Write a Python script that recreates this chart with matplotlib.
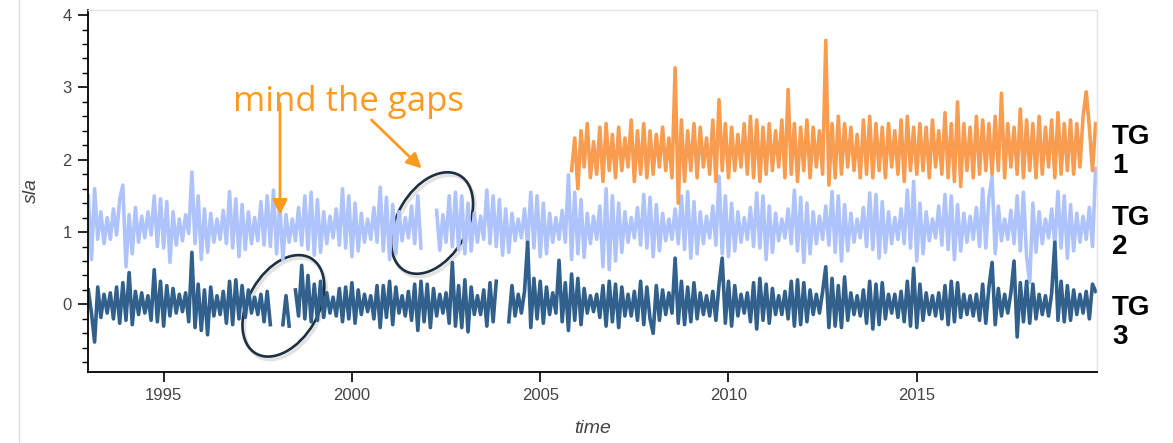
import numpy as np
import matplotlib.pyplot as plt
from matplotlib.patches import Ellipse
from matplotlib.transforms import ScaledTranslation
from matplotlib.lines import Line2D

nan = np.nan

# monthly sla per tide gauge, in cm, one row per year (1993 .. 2019)
tg3 = [
    20, -12, -52, 24, -18, 14, -12, 16, -20, 24, -26, 30,
    -22, 44, -28, 18, -14, 16, -12, 12, -22, 48, -24, 32,
    -30, 26, -16, 22, -12, 14, -10, 16, -24, 72, -32, 28,
    -36, 20, -42, 24, -16, 12, -14, 18, -26, 32, -28, 34,
    -20, 26, -18, 20, -12, 10, -14, 14, -24, 18, -28, nan,
    nan, nan, -28, 12, -30, nan, 20, -16, 54, -20, 40, -24,
    28, -22, 32, -18, 16, -12, 10, -16, 22, -24, 24, -20,
    30, -26, 20, -14, 14, -10, 12, -20, 26, -32, 26, -18,
    32, -28, 24, -12, 12, -16, 18, -22, 28, -36, 32, -24,
    28, -32, 22, -16, 14, -12, 16, -26, 58, -30, 26, -32,
    34, -38, 24, -14, 12, -14, 20, -30, 30, -24, 32, nan,
    nan, nan, -24, 26, -16, 14, -12, 18, 86, -32, 36, -20,
    32, -26, 24, -14, 16, -12, 61, -24, 30, -36, 42, -22,
    36, -28, 22, -12, 12, -10, 14, -18, 26, -30, 32, -24,
    28, -32, 24, -16, 14, -16, 18, -22, 32, -28, 24, -20,
    -40, 26, -22, 20, -14, 16, -12, 64, -26, 32, -28, 24,
    -24, 30, -20, 16, -14, 12, -16, 18, -22, 28, 64, -26,
    32, -30, 26, -16, 14, -12, 16, -24, 30, -34, 36, -22,
    28, -26, 22, -14, 12, -14, 18, -20, 32, -30, 34, -28,
    30, -24, 20, -14, 14, -12, 18, 52, -32, 36, -30, 26,
    -32, 38, -22, 16, -14, 12, -16, 20, -26, 32, -34, 28,
    -28, 30, -20, 14, -12, 14, -18, 18, -24, 32, -30, 50,
    -32, 28, -22, 16, -14, 12, -16, 16, -20, 26, -28, 32,
    -24, 30, -18, 14, -14, 12, -16, 14, -22, 28, -26, 24,
    58, -28, 22, -16, 14, -12, 16, 60, -45, 30, -24, 32,
    -26, 28, -20, 14, -14, 12, -16, 16, 86, -22, 32, -24,
    26, -22, 20, -14, 14, -12, 18, -20, 28, 18,
]

tg2 = [
    150, 62, 160, 90, 128, 84, 120, 90, 132, 96, 145, 165,
    52, 124, 70, 134, 86, 122, 92, 128, 96, 150, 80, 146,
    78, 142, 58, 128, 82, 118, 88, 124, 98, 183, 84, 150,
    62, 132, 72, 126, 86, 118, 90, 130, 84, 156, 78, 146,
    66, 138, 76, 128, 84, 120, 88, 142, 82, 150, 80, 158,
    70, 140, 62, 124, 86, 118, 88, 134, 82, 150, 76, 155,
    68, 145, 72, 128, 84, 122, 92, 132, 82, 160, 78, 150,
    66, 140, 74, 126, 86, 118, 90, 134, 86, 162, 74, 148,
    62, 138, 70, 128, 88, 120, 92, 136, 84, 150, 78, nan,
    nan, nan, nan, 130, 75, 124, 86, 150, 80, 155, 76, 150,
    70, 140, 74, 126, 86, 122, 90, 158, 84, 150, 80, 145,
    68, 132, 72, 126, 88, 118, 92, 132, 82, 155, 78, 150,
    66, 140, 70, 126, 86, 120, 90, 130, 86, 179, 62, 155,
    70, 145, 65, 126, 84, 122, 90, 136, 52, 160, 48, 150,
    60, 140, 72, 128, 86, 120, 92, 134, 82, 152, 78, 148,
    66, 138, 74, 126, 88, 118, 90, 132, 84, 150, 76, 156,
    64, 142, 70, 128, 84, 122, 92, 136, 82, 177, 70, 150,
    66, 140, 74, 128, 86, 120, 90, 134, 80, 154, 78, 150,
    62, 136, 72, 126, 88, 118, 92, 132, 84, 158, 74, 148,
    58, 140, 70, 128, 84, 122, 90, 136, 82, 156, 72, 150,
    60, 138, 74, 126, 86, 118, 92, 134, 80, 154, 76, 152,
    64, 142, 72, 128, 84, 120, 90, 132, 84, 158, 78, 170,
    60, 140, 70, 128, 88, 118, 92, 136, 82, 152, 76, 150,
    62, 138, 74, 126, 86, 122, 90, 134, 80, 160, 78, 148,
    177, 70, 136, 88, 118, 90, 130, 84, 150, 74, 155, 66,
    30, 140, 72, 128, 84, 118, 92, 132, 82, 156, 78, 150,
    64, 138, 74, 126, 86, 122, 90, 134, 80, 188,
]

# TG1 starts in Nov 2005
tg1 = [
    185, 230,
    160, 240, 190, 250, 175, 225, 180, 245, 170, 250, 185, 235,
    175, 245, 185, 230, 190, 255, 170, 240, 180, 250, 175, 240,
    180, 235, 190, 245, 185, 230, 175, 327, 140, 255, 170, 240,
    185, 250, 175, 245, 190, 230, 180, 255, 170, 283, 185, 250,
    175, 245, 185, 235, 190, 250, 180, 260, 175, 255, 170, 245,
    180, 250, 185, 240, 190, 255, 175, 297, 180, 250, 170, 245,
    185, 255, 175, 245, 190, 240, 180, 365, 165, 250, 175, 260,
    180, 250, 190, 245, 185, 235, 175, 255, 180, 260, 175, 250,
    185, 245, 175, 250, 190, 240, 180, 255, 170, 260, 185, 245,
    180, 250, 185, 245, 175, 255, 190, 240, 180, 265, 175, 250,
    170, 280, 163, 250, 185, 245, 175, 260, 180, 255, 185, 250,
    180, 260, 185, 292, 175, 250, 190, 245, 180, 270, 175, 255,
    185, 250, 175, 260, 180, 245, 190, 255, 175, 265, 180, 250,
    185, 255, 180, 250, 190, 260, 294, 245, 185, 250,
]

first_year = 1993
tg1_start = 2005 + 10 / 12
labels = ['TG\n1', 'TG\n2', 'TG\n3']
years = [1995, 2000, 2005, 2010, 2015]

t = first_year + np.arange(len(tg3)) / 12
t1 = tg1_start + np.arange(len(tg1)) / 12

plt.rcParams['font.family'] = ['Liberation Sans', 'DejaVu Sans']

fig = plt.figure(figsize=(11.73, 4.43), dpi=100)
ax = fig.add_axes([0.0753, 0.161, 0.8597, 0.8164])

ax.plot(t, np.array(tg2) / 100, color='#aec3fb', lw=2.6)
ax.plot(t1, np.array(tg1) / 100, color='#f99c50', lw=2.6)
ax.plot(t, np.array(tg3) / 100, color='#30608b', lw=2.6)

ax.set_xlim(1993.0, 2019.78)
ax.set_ylim(-0.93, 4.07)
ax.set_xticks(years)
ax.set_xticklabels([str(y) for y in years])
ax.set_yticks([0, 1, 2, 3, 4])
ax.set_yticks(np.arange(-0.8, 4.0, 0.2), minor=True)
ax.tick_params(axis='both', which='major', direction='out', length=7, width=1.2,
               labelsize=12, labelcolor='#444444', pad=5)
ax.tick_params(axis='y', which='minor', direction='out', length=4, width=1.0)

for s in ['left', 'bottom']:
    ax.spines[s].set_linewidth(1.3)
for s in ['top', 'right']:
    ax.spines[s].set_color('#e3e3e3')
    ax.spines[s].set_linewidth(1.0)

ax.set_xlabel('time', fontsize=14, style='italic', color='#444444', labelpad=12)
ax.set_ylabel('sla', fontsize=14, style='italic', color='#444444', labelpad=16)

# labels to the right of the plot
for lab, yy in zip(labels, [0.657, 0.476, 0.273]):
    fig.text(0.948, yy, lab, fontsize=20, fontweight='bold', color='black',
             va='center', ha='left', linespacing=1.15)

# annotation
orange = '#ff9a1f'
ax.text(1996.83, 2.68, 'mind the gaps', color=orange, fontsize=25,
        family='Open Sans', va='baseline', ha='left')
ax.annotate('', xy=(1998.09, 1.24), xytext=(1998.09, 2.78),
            arrowprops=dict(arrowstyle='-|>', color=orange, lw=2,
                            mutation_scale=22, shrinkA=0, shrinkB=0))
ax.annotate('', xy=(2001.85, 1.88), xytext=(2000.52, 2.55),
            arrowprops=dict(arrowstyle='-|>', color=orange, lw=2,
                            mutation_scale=22, shrinkA=0, shrinkB=0))

# ellipses around the gaps (size in inches, centre in data units)
for xc, yc in [(1998.18, -0.02), (2002.13, 1.125)]:
    shadow = Ellipse((0.02, -0.03), 1.10, 0.70, angle=60, fill=False,
                     ec='#cfcfcf', lw=2.5, alpha=0.6,
                     transform=fig.dpi_scale_trans + ScaledTranslation(xc, yc, ax.transData))
    ax.add_artist(shadow)
    e = Ellipse((0, 0), 1.10, 0.70, angle=60, fill=False, ec='#1d2f40', lw=1.9,
                transform=fig.dpi_scale_trans + ScaledTranslation(xc, yc, ax.transData))
    ax.add_artist(e)

fig.add_artist(Line2D([0.0166, 0.0166], [0, 1], color='#dcdcdc', lw=1))

fig.savefig('out.png', dpi=100)
